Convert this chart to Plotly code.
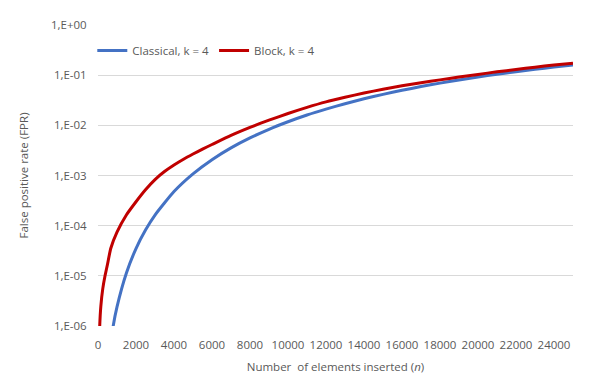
import plotly.graph_objects as go

# Number of elements inserted (n)
n_classical = [500, 800, 1000, 1500, 2000, 2500, 3000, 4000, 5000, 6000, 7000, 8000, 9000,
               10000, 11000, 12000, 13000, 14000, 15000, 16000, 17000, 18000, 19000,
               20000, 21000, 22000, 23000, 24000, 25000]
fpr_classical = [1.5e-7, 1.0e-6, 2.4e-6, 1.15e-5, 3.5e-5, 8.2e-5, 1.63e-4, 4.8e-4, 1.08e-3,
                 2.07e-3, 3.56e-3, 5.62e-3, 8.35e-3, 0.0118, 0.0161, 0.0211, 0.0270, 0.0338,
                 0.0414, 0.0499, 0.0593, 0.0694, 0.0803, 0.0920, 0.1043, 0.1173, 0.1309,
                 0.1450, 0.1597]

n_block = [50, 90, 150, 250, 370, 500, 670, 1000, 1500, 2000, 2500, 3000, 3500, 4000, 4500,
           5000, 5500, 6000, 7000, 8000, 9000, 10000, 11000, 12000, 13000, 14000, 15000,
           16000, 17000, 18000, 19000, 20000, 21000, 22000, 23000, 24000, 25000]
fpr_block = [2.0e-7, 1.0e-6, 2.5e-6, 5.5e-6, 1.0e-5, 1.7e-5, 3.5e-5, 7.4e-5, 1.65e-4, 3.0e-4,
             5.2e-4, 8.3e-4, 1.2e-3, 1.62e-3, 2.11e-3, 2.68e-3, 3.36e-3, 4.15e-3, 6.3e-3,
             9.1e-3, 0.0127, 0.0172, 0.0228, 0.0293, 0.0362, 0.0440, 0.0525, 0.0613, 0.0705,
             0.0805, 0.0915, 0.1035, 0.1165, 0.130, 0.1445, 0.159, 0.173]

y_tickvals = [1e-6, 1e-5, 1e-4, 1e-3, 1e-2, 1e-1, 1e0]
y_ticktext = ["1,E-06", "1,E-05", "1,E-04", "1,E-03", "1,E-02", "1,E-01", "1,E+00"]

font_family = "Open Sans, Liberation Sans, sans-serif"
grey = "#595959"

fig = go.Figure()
fig.add_trace(go.Scatter(x=n_classical, y=fpr_classical, mode="lines",
                         name="Classical, k = 4",
                         line=dict(color="#4472C4", width=3, shape="spline", smoothing=0.5)))
fig.add_trace(go.Scatter(x=n_block, y=fpr_block, mode="lines",
                         name="Block, k = 4",
                         line=dict(color="#C00000", width=3, shape="spline", smoothing=0.5)))

fig.update_layout(
    width=604, height=389,
    margin=dict(l=98, r=31, t=25, b=63, autoexpand=False),
    paper_bgcolor="white", plot_bgcolor="white",
    font=dict(family=font_family, size=11.5, color=grey),
    showlegend=True,
    legend=dict(orientation="h", x=-0.012, y=0.915, xanchor="left", yanchor="middle",
                bgcolor="rgba(0,0,0,0)", font=dict(size=11.5, color=grey),
                itemwidth=30, tracegroupgap=0),
    xaxis=dict(range=[0, 25000], tickmode="linear", tick0=0, dtick=2000, tickformat="d",
               showgrid=False, zeroline=False, showline=False,
               ticks="outside", ticklen=8, tickcolor="rgba(0,0,0,0)", automargin=False,
               tickfont=dict(size=11.5, color=grey),
               title=dict(text="Number  of elements inserted (<i>n</i>)",
                          font=dict(size=11.5, color=grey), standoff=12)),
    yaxis=dict(type="log", range=[-6, 0], tickvals=y_tickvals, ticktext=y_ticktext,
               showgrid=True, gridcolor="#d9d9d9", gridwidth=1, zeroline=False,
               showline=False, ticks="outside", ticklen=8, tickcolor="rgba(0,0,0,0)",
               automargin=False, tickfont=dict(size=11.5, color=grey),
               title=dict(text="False positive rate (FPR)",
                          font=dict(size=11.5, color=grey), standoff=20)),
)

fig.write_html("out.html", config={"displayModeBar": False},
               post_script="document.body.style.margin='0';document.body.style.overflow='hidden';")
